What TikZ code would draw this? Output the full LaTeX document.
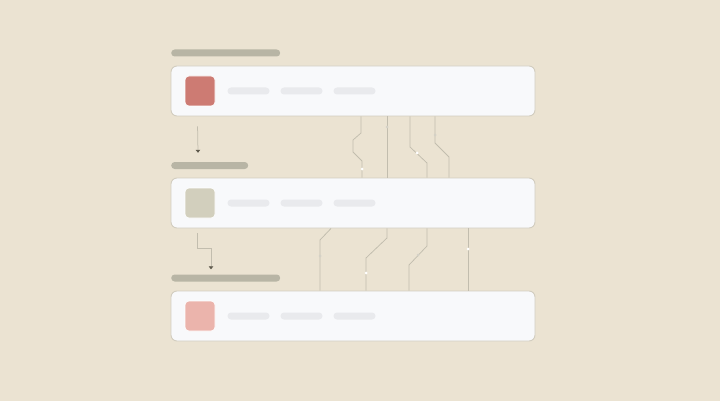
\documentclass[tikz,border=0pt]{standalone}
\usetikzlibrary{positioning}
\usetikzlibrary{arrows.meta}
\definecolor{bgcol}{HTML}{EBE3D2}
\definecolor{panelcol}{HTML}{F8F9FB}
\definecolor{edgecol}{HTML}{D2CDC0}
\definecolor{tagcol}{HTML}{B8B5A5}
\definecolor{pillcol}{HTML}{E9EAED}
\definecolor{wirecol}{HTML}{C2BDAE}
\definecolor{tipcol}{HTML}{5E594C}
\definecolor{redcol}{HTML}{CD7B73}
\definecolor{graycol}{HTML}{D2CFBD}
\definecolor{pinkcol}{HTML}{EBB4AC}
\tikzset{
	panel/.style = {draw=edgecol, line width=0.9pt, fill=panelcol, rounded corners=6pt,
		minimum width=364pt, minimum height=50pt, inner sep=0pt},
	tag/.style = {fill=tagcol, rounded corners=3.5pt, minimum height=7pt, inner sep=0pt},
	icon/.style = {draw=white, line width=0.6pt, rounded corners=4pt, minimum size=30pt, inner sep=0pt},
	pill/.style = {fill=pillcol, rounded corners=3.5pt, minimum width=42pt, minimum height=7pt, inner sep=0pt},
	wire/.style = {draw=wirecol, line width=0.75pt},
	flow/.style = {draw=wirecol, line width=0.75pt, -{Triangle[length=3pt,width=4.5pt,color=tipcol]}},
	lightdot/.style = {circle, fill=white, inner sep=0pt, minimum size=3pt},
	greydot/.style = {circle, fill=wirecol!70, inner sep=0pt, minimum size=3pt}
}
\begin{document}
\begin{tikzpicture}[x=1pt, y=-1pt]
		\useasboundingbox[fill=bgcol] (0,0) rectangle (720,401);
		% panels
		\node[panel] (p1) at (353,91) {};
		\node[panel] (p2) at (353,203) {};
		\node[panel] (p3) at (353,316) {};
		% tags
		\node[tag, minimum width=109pt, anchor=west] (t1) at (171,53) {};
		\node[tag, minimum width=77pt, anchor=west] (t2) at (171,165.5) {};
		\node[tag, minimum width=109pt, anchor=west] (t3) at (171,278) {};
		% icons
		\node[icon, fill=redcol] (i1) at (200,91) {};
		\node[icon, fill=graycol] (i2) at (200,203) {};
		\node[icon, fill=pinkcol] (i3) at (200,316) {};
		% pills
		\foreach \r/\y in {1/91, 2/203, 3/316} \foreach \c/\x in {1/248.5, 2/301.5, 3/354.5}
			\node[pill] (q\r\c) at (\x,\y) {};
		
		% flow arrows
		\draw[flow] ([xshift=27pt,yshift=-10pt]p1.south west) -- ([xshift=27pt,yshift=9pt]t2.north west);
		\draw[flow] ([xshift=27pt,yshift=-5pt]p2.south west) -- ++(0,15) -| ([xshift=40pt,yshift=5pt]t3.north west);
		
		% wires, upper
		\draw[wire] (p1.south -| 361,0) -- (361,133) -- (353,140) -- (353,152) -- (362,161) -- (p2.north -| 362,0);
		\draw[wire] (p1.south -| 387,0) -- (p2.north -| 387,0);
		\draw[wire] (p1.south -| 410,0) -- (410,147) -- (427,163) -- (p2.north -| 427,0);
		\draw[wire] (p1.south -| 435,0) -- (435,143) -- (449,157) -- (p2.north -| 449,0);
		\node[lightdot] (d1) at (362,169) {};
		\node[greydot] (d2) at (387,127) {};
		\node[lightdot] (d3) at (417,153) {};
		\node[greydot] (d4) at (435,135) {};
		
		% wires, lower
		\draw[wire] (p2.south -| 331,0) -- (320,240) -- (p3.north -| 320,0);
		\draw[wire] (p2.south -| 387,0) -- (387,238) -- (366,258) -- (p3.north -| 366,0);
		\draw[wire] (p2.south -| 427,0) -- (427,246) -- (409,265) -- (p3.north -| 409,0);
		\draw[wire] (p2.south -| 468,0) -- (p3.north -| 468,0);
		\node[greydot] (d5) at (320,256) {};
		\node[lightdot] (d6) at (366,273) {};
		\node[greydot] (d7) at (418,255) {};
		\node[lightdot] (d8) at (468,249) {};
	\end{tikzpicture}
\end{document}
